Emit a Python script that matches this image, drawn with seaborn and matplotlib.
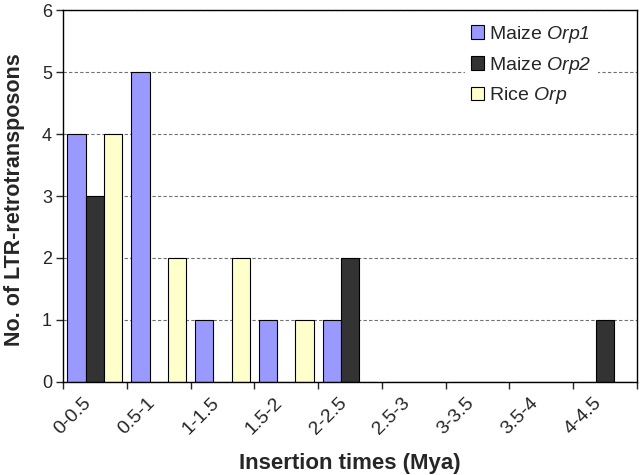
import numpy as np
import pandas as pd
import matplotlib
matplotlib.use("Agg")
import matplotlib.pyplot as plt
import seaborn as sns

# insertion time bins (Mya) and counts per element family
intervals = ["0-0.5", "0.5-1", "1-1.5", "1.5-2", "2-2.5", "2.5-3", "3-3.5", "3.5-4", "4-4.5"]
maize_orp1 = [4, 5, 1, 1, 1, 0, 0, 0, 0]
maize_orp2 = [3, 0, 0, 0, 2, 0, 0, 0, 1]
rice_orp = [4, 2, 2, 1, 0, 0, 0, 0, 0]
series = ["Maize Orp1", "Maize Orp2", "Rice Orp"]
legend_labels = [r"Maize $Orp1$", r"Maize $Orp2$", r"Rice $Orp$"]
colors = ["#9999FF", "#333333", "#FFFFCC"]

df = pd.DataFrame({
    "interval": intervals * 3,
    "count": maize_orp1 + maize_orp2 + rice_orp,
    "series": [s for s in series for _ in intervals],
})

sns.set_style("ticks")
plt.rcParams["font.family"] = ["Liberation Sans", "DejaVu Sans"]
plt.rcParams["mathtext.fontset"] = "custom"
# italic for both letters and digits inside $...$
plt.rcParams["mathtext.rm"] = "Liberation Sans:italic"
plt.rcParams["mathtext.it"] = "Liberation Sans:italic"

fig = plt.figure(figsize=(6.4, 4.75), dpi=100)
ax = fig.add_axes([63 / 640, 1 - 382 / 475, (637 - 63) / 640, (382 - 10) / 475])

sns.barplot(data=df, x="interval", y="count", hue="series", order=intervals,
            hue_order=series, palette=colors, saturation=1, width=0.86,
            edgecolor="black", linewidth=0.8, ax=ax)

ax.set_xlim(-0.5, len(intervals) - 0.5)
ax.set_ylim(0, 6)
ax.set_yticks(range(7))
ax.yaxis.grid(True, linestyle=(0, (3, 2)), color="#707070", linewidth=0.8)
ax.set_axisbelow(True)

# category labels at centres, tick marks at the bin boundaries
ax.set_xticks(range(len(intervals)))
ax.set_xticklabels(intervals, rotation=45, ha="right", va="top", fontsize=14)
ax.tick_params(axis="x", which="major", length=0, pad=9)
ax.set_xticks(np.arange(-0.5, len(intervals), 1), minor=True)
ax.tick_params(axis="x", which="minor", length=5, width=1, direction="out")
ax.tick_params(axis="y", length=5, width=1, direction="out", labelsize=13, pad=3)

for sp in ax.spines.values():
    sp.set_visible(True)
    sp.set_color("black")
    sp.set_linewidth(1)

ax.set_xlabel("Insertion times (Mya)", fontsize=16, fontweight="bold")
ax.set_ylabel("No. of LTR-retrotransposons", fontsize=15.5, fontweight="bold")
ax.xaxis.set_label_coords(0.5, -0.19)
ax.yaxis.set_label_coords(-0.066, 0.49)

handles, _ = ax.get_legend_handles_labels()
leg = ax.legend(handles, legend_labels, loc="upper left",
                bbox_to_anchor=(465 / 640, 1 - 18 / 475), bbox_transform=fig.transFigure,
                frameon=True, fancybox=False, framealpha=1, facecolor="white",
                edgecolor="none", fontsize=14, handlelength=0.7, handleheight=0.7,
                handletextpad=0.25, labelspacing=0.5, borderpad=0.3, borderaxespad=0)

fig.savefig("out.png", dpi=100)
